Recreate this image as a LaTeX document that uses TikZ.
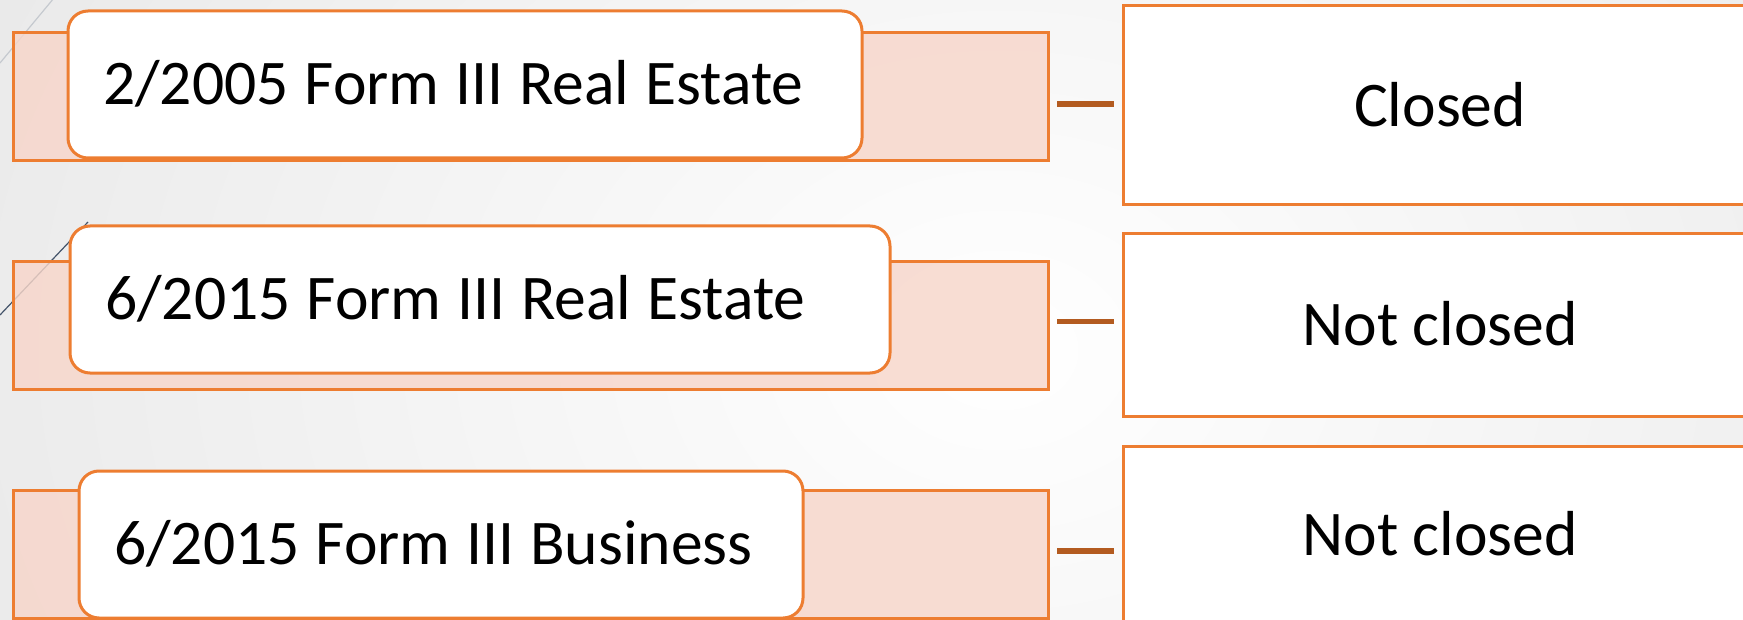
\documentclass[tikz,border=0pt]{standalone}
\usepackage{fontspec}
\setmainfont{Carlito}
\definecolor{accent}{HTML}{ED7D31}
\definecolor{backfill}{HTML}{F7D6CA}
\definecolor{connc}{HTML}{B35B20}
\definecolor{bgout}{HTML}{E6E6E6}
\definecolor{decogray}{HTML}{C5C9CF}
\definecolor{decoblue}{HTML}{44546A}
\newcommand{\boxfont}{\fontsize{31.8pt}{38pt}\selectfont}
\newcommand{\labfont}{\fontsize{31.8pt}{38pt}\selectfont\spaceskip=0.25em\relax}
\tikzset{
  backbox/.style={draw=accent, line width=1.5pt, fill=backfill, fill opacity=0.82, draw opacity=1,
    rectangle, outer sep=0pt, inner sep=0pt, minimum width=517.5pt, minimum height=64pt},
  frontbox/.style={draw=accent, line width=1.5pt, fill=white, rectangle, rounded corners=10pt,
    outer sep=0pt, inner sep=0pt, minimum height=73.5pt},
  frontlabel/.style={anchor=west, inner sep=0pt, outer sep=0pt, font=\labfont},
  resultbox/.style={draw=accent, line width=1.5pt, fill=white, rectangle, outer sep=0pt,
    inner sep=0pt, minimum width=317pt, align=center, font=\boxfont},
  conn/.style={draw=connc, line width=2.8pt},
  deco/.style={line width=0.6pt}
}
\begin{document}
\begin{tikzpicture}[x=0.5pt,y=-0.5pt]
\useasboundingbox (0,0) rectangle (1743,620);
\clip (0,0) rectangle (1743,620);
% background
\shade[inner color=white, outer color=bgout] (-300,-650) rectangle (2300,1350);
% decorative lines
\coordinate (d1a) at (0,63);
\coordinate (d1b) at (54,-2);
\coordinate (d2a) at (0,315);
\coordinate (d2b) at (88,222);
\draw[deco, decogray] (d1a) -- (d1b);
\draw[deco, decoblue] (d2a) -- (d2b);
% row 1
\node[backbox] (b1) at (530.5,97) {};
\node[frontbox, minimum width=397pt] (f1) at (465,84.5) {};
\node[frontlabel] (t1) at ([xshift=17.5pt,yshift=0.5pt]f1.west) {2/2005 Form III Real Estate};
\node[resultbox, minimum height=99.5pt] (r1) at (1440,105.5) {\raisebox{1.5pt}{Closed}};
\draw[conn] ([xshift=4.5pt,yshift=-3.5pt]b1.east) -- ([xshift=-4.5pt,yshift=-3.5pt]b1.east -| r1.west);
% row 2
\node[backbox] (b2) at (530.5,325.5) {};
\node[frontbox, minimum width=410pt] (f2) at (480,299.5) {};
\node[frontlabel] (t2) at ([xshift=17.5pt,yshift=0.5pt]f2.west) {6/2015 Form III Real Estate};
\node[resultbox, minimum height=91.5pt] (r2) at (1440,324.5) {\raisebox{1pt}{Not closed}};
\draw[conn] ([xshift=4.5pt,yshift=2pt]b2.east) -- ([xshift=-4.5pt,yshift=2pt]b2.east -| r2.west);
% row 3
\node[backbox] (b3) at (530.5,554.5) {};
\node[frontbox, minimum width=362pt] (f3) at (441,544.5) {};
\node[frontlabel] (t3) at ([xshift=17.5pt,yshift=0.5pt]f3.west) {6/2015 Form III Business};
\node[resultbox, minimum height=88pt] (r3) at (1440,534) {Not closed};
\draw[conn] ([xshift=4.5pt,yshift=1.75pt]b3.east) -- ([xshift=-4.5pt,yshift=1.75pt]b3.east -| r3.west);
\end{tikzpicture}
\end{document}
